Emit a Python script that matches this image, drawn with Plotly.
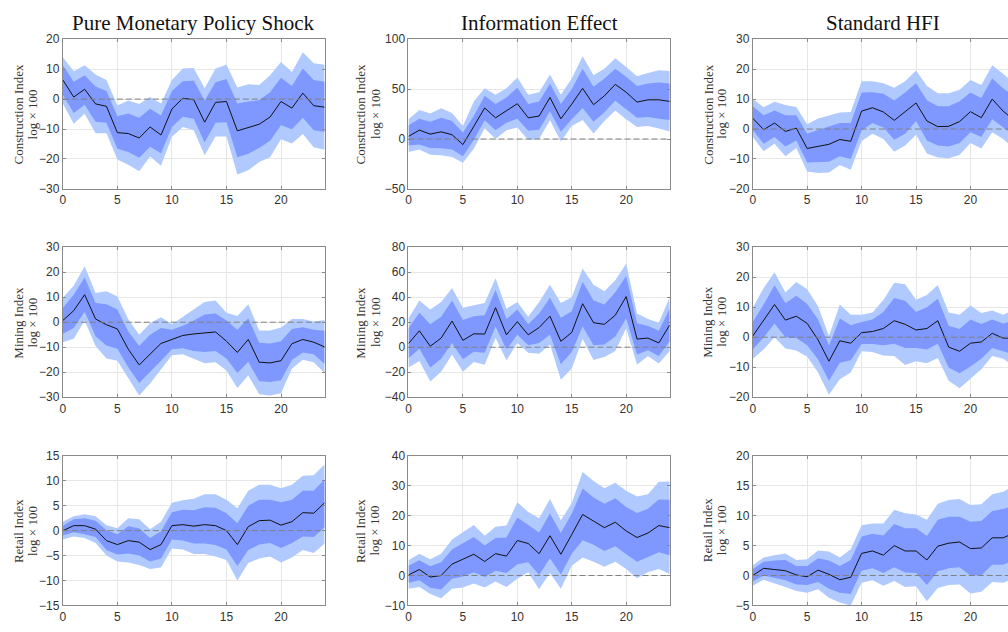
import plotly.graph_objects as go

horizon = list(range(25))
col_titles = ["Pure Monetary Policy Shock", "Information Effect", "Standard HFI"]
row_labels = ["Construction Index", "Mining Index", "Retail Index"]
unit_label = "log × 100"

# ---------------- Pure monetary policy shock ----------------
pmp_con_irf = [6.4, 0.7, 3.3, -1.6, -2.4, -11.2, -11.5, -13.0, -9.3, -12.0, -3.3, 0.3, -0.2, -7.7, -1.1, -0.8, -10.6, -9.5, -8.4, -6.0, -0.8, -3.0, 2.0, -2.2, -2.7]
pmp_con_hi68 = [11.3, 5.8, 8.0, 4.2, 2.7, -5.7, -4.8, -6.2, -3.2, -5.5, 2.7, 6.0, 6.1, -0.5, 5.6, 6.7, -1.5, -0.8, -0.4, 2.3, 7.1, 4.4, 10.2, 6.4, 5.8]
pmp_con_lo68 = [1.5, -4.6, -1.9, -7.6, -7.9, -16.6, -17.7, -19.6, -15.9, -18.1, -9.3, -5.9, -6.6, -14.5, -7.9, -7.7, -19.4, -18.3, -16.3, -13.9, -8.7, -10.1, -6.2, -10.4, -11.0]
pmp_con_hi90 = [14.0, 9.3, 11.3, 8.2, 6.4, -2.1, -0.5, -1.6, 0.7, -1.5, 6.4, 10.2, 10.4, 3.6, 10.2, 11.5, 3.9, 5.0, 4.7, 8.0, 12.4, 9.1, 15.7, 12.0, 11.5]
pmp_con_lo90 = [-1.5, -8.2, -4.9, -11.4, -11.4, -20.2, -21.9, -24.1, -19.2, -22.3, -12.6, -9.3, -10.4, -18.8, -12.5, -12.5, -25.2, -23.8, -21.0, -19.4, -13.4, -14.8, -11.7, -16.1, -16.9]

pmp_min_irf = [0.7, 4.6, 11.0, 1.3, -1.0, -2.7, -10.8, -17.1, -12.8, -8.5, -6.9, -5.3, -4.7, -4.3, -3.9, -7.6, -12.1, -6.9, -16.0, -16.3, -15.4, -8.6, -6.9, -8.0, -9.9]
pmp_min_hi68 = [5.7, 11.0, 17.9, 7.7, 7.2, 5.1, -3.7, -9.5, -5.0, -2.3, -3.0, -1.4, 0.7, 3.1, 3.5, 0.7, -3.0, 1.6, -8.2, -8.5, -7.6, -2.7, -2.0, -3.0, -3.4]
pmp_min_lo68 = [-4.6, -2.3, 4.2, -5.6, -9.3, -10.6, -18.0, -24.3, -20.0, -15.4, -10.8, -10.4, -11.5, -11.9, -11.5, -14.5, -20.3, -15.8, -23.6, -23.9, -23.2, -15.1, -12.1, -12.8, -16.7]
pmp_min_hi90 = [9.8, 14.6, 22.4, 11.7, 12.4, 10.3, 1.2, -5.0, -0.4, 2.0, -0.8, 2.2, 5.1, 8.1, 8.7, 3.8, 2.5, 7.2, -3.3, -3.3, -2.1, 1.3, 1.3, 0.3, 0.9]
pmp_min_lo90 = [-8.0, -6.6, 0.7, -9.5, -14.5, -15.4, -22.6, -29.3, -24.5, -19.0, -13.2, -12.8, -14.5, -16.4, -16.0, -19.3, -26.3, -21.3, -28.8, -29.3, -28.4, -18.6, -15.0, -16.0, -20.3]

pmp_ret_irf = [0.0, 1.0, 1.0, 0.3, -2.0, -2.8, -2.0, -2.3, -3.8, -2.8, 1.0, 1.2, 0.9, 1.2, 1.0, 0.0, -2.8, 0.8, 2.0, 2.1, 1.1, 1.8, 3.6, 3.5, 5.6]
pmp_ret_hi68 = [1.0, 2.3, 2.5, 2.0, 0.1, -0.7, 0.9, 0.5, -1.5, -0.1, 3.7, 4.2, 4.1, 4.7, 4.6, 3.5, 1.5, 5.0, 6.2, 6.2, 5.7, 6.2, 8.0, 8.0, 10.3]
pmp_ret_lo68 = [-1.0, -0.3, -0.7, -1.3, -3.9, -4.8, -4.6, -5.0, -6.2, -5.6, -1.8, -2.0, -2.6, -2.6, -2.9, -3.8, -7.1, -3.9, -2.8, -2.5, -3.5, -2.5, -1.2, -1.3, 0.7]
pmp_ret_hi90 = [1.8, 2.9, 3.3, 2.9, 1.1, 0.5, 2.5, 2.3, 0.3, 1.8, 5.6, 6.1, 6.4, 7.3, 7.3, 6.2, 4.5, 8.0, 9.2, 9.2, 8.5, 9.2, 11.0, 11.1, 13.3]
pmp_ret_lo90 = [-1.8, -1.2, -1.5, -2.5, -5.0, -6.2, -6.4, -6.9, -7.7, -7.4, -3.6, -3.8, -4.7, -4.7, -5.2, -5.9, -10.0, -6.5, -5.6, -5.2, -6.4, -5.4, -3.9, -4.5, -2.6]

# ---------------- Information effect ----------------
inf_con_irf = [2.6, 8.9, 4.9, 7.2, 4.3, -5.6, 12.7, 31.1, 21.3, 28.5, 35.4, 21.3, 23.0, 41.6, 20.3, 35.0, 50.8, 34.4, 43.3, 54.8, 46.9, 37.0, 39.3, 39.3, 37.7]
inf_con_hi68 = [13.8, 20.3, 17.4, 21.3, 18.0, 6.6, 23.0, 43.3, 35.1, 41.6, 51.5, 35.1, 37.7, 55.7, 35.1, 50.2, 70.5, 52.5, 60.7, 70.5, 62.3, 53.1, 55.7, 56.7, 55.7]
inf_con_lo68 = [-6.6, -5.6, -8.9, -9.2, -10.5, -17.4, -1.0, 18.7, 8.9, 16.4, 20.3, 8.2, 9.2, 27.9, 7.2, 19.7, 31.1, 17.4, 26.9, 38.4, 30.2, 21.3, 22.0, 20.3, 19.0]
inf_con_hi90 = [19.7, 29.2, 25.6, 30.8, 26.2, 13.1, 37.7, 50.8, 44.3, 50.8, 61.6, 44.3, 46.9, 64.6, 44.3, 60.7, 83.0, 63.9, 70.5, 81.0, 72.1, 62.9, 66.2, 68.9, 68.2]
inf_con_lo90 = [-13.1, -10.5, -15.7, -16.4, -18.0, -23.9, -9.8, 10.8, 0.0, 8.9, 11.5, -1.0, 0.0, 18.7, -2.6, 13.1, 19.0, 5.6, 18.0, 28.5, 19.7, 12.1, 13.1, 10.5, 7.5]

inf_min_irf = [2.9, 13.1, 0.8, 7.3, 20.9, 5.5, 10.7, 10.5, 31.6, 9.9, 20.4, 9.9, 15.7, 24.8, 4.7, 11.8, 34.8, 19.6, 18.3, 25.6, 40.5, 6.5, 7.3, 3.4, 17.8]
inf_min_hi68 = [15.2, 27.5, 18.3, 24.3, 37.4, 21.7, 24.8, 25.6, 45.8, 22.5, 30.1, 18.3, 26.9, 39.5, 23.5, 28.8, 52.3, 37.4, 34.2, 43.9, 57.0, 19.1, 17.0, 13.1, 30.8]
inf_min_lo68 = [-8.9, -1.3, -16.2, -9.2, 3.4, -9.7, -3.7, -4.4, 16.5, -1.8, 9.9, 1.6, 3.4, 9.9, -13.6, -3.9, 16.5, 1.6, 2.1, 8.6, 23.0, -5.8, -2.4, -7.1, 4.7]
inf_min_hi90 = [23.0, 37.4, 30.1, 36.1, 47.3, 31.6, 33.5, 35.3, 55.2, 30.8, 36.1, 24.3, 36.1, 49.9, 35.3, 40.0, 63.0, 49.9, 44.7, 53.6, 66.7, 26.9, 22.5, 19.6, 40.0]
inf_min_lo90 = [-16.2, -11.0, -27.5, -19.6, -5.8, -19.6, -11.8, -14.1, 7.3, -10.5, 3.4, -4.4, -5.2, 2.1, -26.1, -17.0, 6.5, -10.2, -7.8, -3.1, 15.2, -14.1, -7.1, -13.1, -3.1]

inf_ret_irf = [0.2, 2.0, -0.5, 0.0, 3.8, 5.4, 7.1, 4.7, 7.3, 6.5, 11.7, 10.7, 7.3, 13.3, 7.1, 13.7, 20.4, 18.2, 16.0, 17.8, 14.9, 12.7, 14.2, 16.7, 16.0]
inf_ret_hi68 = [3.3, 5.1, 3.1, 4.4, 8.7, 10.9, 12.9, 10.0, 12.5, 12.7, 19.4, 16.9, 14.4, 20.7, 14.2, 20.7, 29.1, 26.1, 24.0, 25.8, 22.9, 20.9, 22.3, 25.4, 25.3]
inf_ret_lo68 = [-2.4, -1.6, -4.1, -4.7, -1.1, -0.3, 1.1, -0.5, 1.6, 0.8, 3.8, 4.4, 0.2, 5.8, 0.3, 7.3, 11.8, 10.3, 8.2, 9.8, 7.1, 4.6, 6.2, 7.8, 6.8]
inf_ret_hi90 = [5.1, 7.3, 5.4, 7.3, 12.0, 14.5, 16.9, 13.3, 16.3, 16.7, 24.5, 21.2, 19.1, 25.6, 18.5, 24.2, 34.6, 31.6, 29.2, 31.0, 28.3, 26.4, 27.2, 31.3, 31.4]
inf_ret_lo90 = [-4.4, -3.8, -6.2, -7.6, -4.4, -4.0, -2.7, -4.0, -2.0, -3.8, -1.1, 1.1, -4.6, 0.8, -4.4, 3.3, 6.0, 4.6, 2.9, 4.6, 2.2, -0.9, 1.1, 2.2, 0.5]

# ---------------- Standard HFI ----------------
hfi_con_irf = [3.6, -0.2, 2.0, -0.8, 0.3, -6.5, -5.8, -5.1, -3.5, -4.1, 6.0, 7.1, 5.7, 2.9, 5.8, 8.7, 2.7, 0.8, 0.9, 2.5, 5.8, 3.8, 10.0, 6.0, 3.0]
hfi_con_hi68 = [7.6, 4.6, 6.2, 4.6, 4.6, -1.6, -0.3, 0.8, 2.0, 2.0, 12.2, 12.3, 11.8, 9.5, 12.2, 15.3, 9.6, 7.6, 7.6, 9.3, 12.2, 10.4, 16.9, 13.6, 10.9]
hfi_con_lo68 = [-0.3, -4.9, -2.7, -5.8, -3.8, -11.2, -11.1, -10.9, -9.1, -10.0, -0.5, 2.0, 0.5, -3.6, -1.6, 2.7, -3.8, -5.5, -5.8, -4.7, -1.1, -2.7, 3.3, 0.5, -2.2]
hfi_con_hi90 = [10.0, 7.3, 9.1, 8.0, 7.4, 1.6, 3.5, 4.6, 5.5, 5.7, 16.0, 16.0, 15.3, 13.8, 16.0, 19.6, 14.4, 12.0, 12.0, 13.1, 16.4, 14.7, 21.3, 18.5, 15.3]
hfi_con_lo90 = [-2.7, -7.4, -4.9, -9.1, -6.3, -14.2, -14.7, -14.5, -12.0, -13.6, -4.0, -1.6, -3.3, -7.6, -5.5, -1.9, -8.2, -9.5, -9.8, -8.7, -4.7, -6.5, -1.1, -3.3, -6.5]

hfi_min_irf = [0.4, 5.7, 10.9, 5.7, 7.0, 4.6, -0.9, -8.0, -1.2, -2.0, 1.5, 1.9, 2.9, 5.5, 4.3, 2.4, 2.9, 5.5, -3.3, -4.7, -2.0, -1.6, 1.3, -0.3, -0.3]
hfi_min_hi68 = [5.1, 10.9, 17.3, 11.3, 13.8, 11.1, 5.9, -2.8, 6.2, 4.0, 5.1, 5.9, 8.4, 13.1, 12.2, 8.4, 10.0, 12.8, 3.8, 2.7, 5.9, 4.4, 5.9, 4.6, 5.5]
hfi_min_lo68 = [-4.1, -0.1, 4.6, 0.0, -0.3, -2.7, -7.4, -14.5, -8.5, -7.7, -2.3, -2.3, -2.7, -2.2, -3.6, -3.6, -4.1, -2.2, -10.1, -12.0, -9.8, -7.2, -3.6, -4.7, -5.8]
hfi_min_hi90 = [9.8, 16.4, 21.7, 14.9, 18.4, 16.0, 10.3, 0.4, 10.9, 7.5, 7.5, 8.2, 12.4, 18.2, 17.7, 12.5, 14.1, 17.4, 8.2, 7.5, 10.6, 8.1, 8.9, 7.5, 9.2]
hfi_min_lo90 = [-7.2, -4.1, 0.0, -3.8, -4.4, -6.5, -11.8, -19.2, -14.0, -11.8, -4.7, -4.9, -6.1, -6.3, -9.3, -8.0, -8.7, -6.9, -14.5, -17.0, -14.0, -10.7, -6.3, -7.2, -9.6]

hfi_ret_irf = [0.0, 1.2, 1.0, 0.8, 0.1, -0.2, 0.9, 0.2, -0.7, -0.3, 3.7, 4.1, 3.4, 5.0, 4.1, 4.1, 2.6, 4.9, 5.4, 5.6, 4.5, 4.6, 6.3, 6.3, 7.1]
hfi_ret_hi68 = [1.1, 2.3, 2.5, 2.6, 1.6, 1.6, 2.9, 2.5, 1.6, 2.6, 6.5, 7.0, 6.7, 8.6, 7.9, 7.9, 6.6, 9.3, 9.8, 9.8, 9.0, 9.1, 10.8, 11.1, 11.7]
hfi_ret_lo68 = [-1.0, 0.0, -0.4, -0.8, -1.5, -1.6, -1.1, -2.2, -2.9, -3.1, 0.8, 1.2, 0.4, 1.4, 0.5, 0.4, -1.6, 0.7, 1.2, 1.4, 0.0, 0.0, 1.8, 1.8, 2.5]
hfi_ret_hi90 = [1.7, 3.0, 3.4, 3.7, 2.6, 2.7, 4.2, 4.0, 3.0, 4.4, 8.4, 8.7, 8.7, 11.0, 10.4, 10.2, 9.3, 12.0, 12.6, 12.8, 11.8, 11.9, 13.6, 14.0, 15.0]
hfi_ret_lo90 = [-1.7, -0.7, -1.3, -1.9, -2.6, -2.9, -2.3, -3.7, -4.5, -5.0, -1.2, -0.8, -1.7, -0.9, -1.9, -1.8, -4.3, -2.1, -1.6, -1.5, -3.0, -2.7, -1.1, -1.2, -0.5]

# y-axis ranges and tick steps for each panel (row, col)
y_ranges = [[[-30, 20], [-50, 100], [-20, 30]],
            [[-30, 30], [-40, 80], [-20, 30]],
            [[-15, 15], [-10, 40], [-5, 20]]]
y_steps = [[10, 50, 10], [10, 20, 10], [5, 10, 5]]

panels = [
    [(pmp_con_irf, pmp_con_hi68, pmp_con_lo68, pmp_con_hi90, pmp_con_lo90),
     (inf_con_irf, inf_con_hi68, inf_con_lo68, inf_con_hi90, inf_con_lo90),
     (hfi_con_irf, hfi_con_hi68, hfi_con_lo68, hfi_con_hi90, hfi_con_lo90)],
    [(pmp_min_irf, pmp_min_hi68, pmp_min_lo68, pmp_min_hi90, pmp_min_lo90),
     (inf_min_irf, inf_min_hi68, inf_min_lo68, inf_min_hi90, inf_min_lo90),
     (hfi_min_irf, hfi_min_hi68, hfi_min_lo68, hfi_min_hi90, hfi_min_lo90)],
    [(pmp_ret_irf, pmp_ret_hi68, pmp_ret_lo68, pmp_ret_hi90, pmp_ret_lo90),
     (inf_ret_irf, inf_ret_hi68, inf_ret_lo68, inf_ret_hi90, inf_ret_lo90),
     (hfi_ret_irf, hfi_ret_hi68, hfi_ret_lo68, hfi_ret_hi90, hfi_ret_lo90)],
]

# ---------------- layout geometry ----------------
W, H = 1008, 632
col_px = [(60, 322.6), (406.7, 668.7), (752, 1008)]
x_max = [24, 24, 23.45]
row_px = [(33, 186), (245.7, 399), (459, 612)]
ylab_px = [(15.5, 29.5), (358.5, 373), (706.7, 720.7)]
title_cx = [191.3, 537.7, 882.8]

LIGHT = "rgb(176,202,255)"
DARK = "rgb(126,152,255)"
AXIS = "#8a8a8a"
TICKFONT = dict(family="Liberation Sans, Arial, sans-serif", size=12, color="#333333")
SERIF = "Liberation Serif, Times New Roman, serif"

fig = go.Figure()
shapes = []
annotations = []
layout = {}

for r in range(3):
    for c in range(3):
        n = r * 3 + c + 1
        xa = "x" if n == 1 else f"x{n}"
        ya = "y" if n == 1 else f"y{n}"
        irf, hi68, lo68, hi90, lo90 = panels[r][c]
        xs = horizon
        fig.add_trace(go.Scatter(x=xs + xs[::-1], y=hi90 + lo90[::-1], fill="toself",
                                 fillcolor=LIGHT, line=dict(width=0), mode="lines",
                                 hoverinfo="skip", showlegend=False, xaxis=xa, yaxis=ya))
        fig.add_trace(go.Scatter(x=xs + xs[::-1], y=hi68 + lo68[::-1], fill="toself",
                                 fillcolor=DARK, line=dict(width=0), mode="lines",
                                 hoverinfo="skip", showlegend=False, xaxis=xa, yaxis=ya))
        fig.add_trace(go.Scatter(x=xs, y=irf, mode="lines",
                                 line=dict(color="#111111", width=1),
                                 showlegend=False, xaxis=xa, yaxis=ya))
        x0, x1 = col_px[c]
        y0, y1 = row_px[r]
        layout["xaxis" if n == 1 else f"xaxis{n}"] = dict(
            domain=[x0 / W, x1 / W], anchor=ya, range=[0, x_max[c]],
            tick0=0, dtick=5, showgrid=True, gridcolor="#e6e6e6", gridwidth=1,
            zeroline=False, showline=True, linecolor=AXIS, linewidth=1, mirror="allticks",
            ticks="inside", ticklen=3, tickcolor=AXIS, tickfont=TICKFONT)
        layout["yaxis" if n == 1 else f"yaxis{n}"] = dict(
            domain=[1 - y1 / H, 1 - y0 / H], anchor=xa, range=y_ranges[r][c],
            tick0=y_ranges[r][c][0], dtick=y_steps[r][c], showgrid=True,
            gridcolor="#e6e6e6", gridwidth=1, zeroline=False, showline=True,
            linecolor=AXIS, linewidth=1, mirror=("allticks" if c < 2 else False),
            ticks="inside", ticklen=3, tickcolor=AXIS, tickfont=TICKFONT)
        shapes.append(dict(type="line", xref=f"{xa} domain", x0=0, x1=1,
                           yref=ya, y0=0, y1=0, layer="above",
                           line=dict(color="#808080", width=1, dash="6px,3px")))
        ymid = 1 - (y0 + y1) / 2 / H
        annotations.append(dict(text=row_labels[r], x=ylab_px[c][0] / W, y=ymid,
                                xref="paper", yref="paper", textangle=-90, showarrow=False,
                                xanchor="center", yanchor="middle",
                                font=dict(family=SERIF, size=13, color="#333333")))
        annotations.append(dict(text=unit_label, x=ylab_px[c][1] / W, y=ymid,
                                xref="paper", yref="paper", textangle=-90, showarrow=False,
                                xanchor="center", yanchor="middle",
                                font=dict(family=SERIF, size=13, color="#333333")))

for c in range(3):
    annotations.append(dict(text=col_titles[c], x=title_cx[c] / W, y=1 - 16 / H,
                            xref="paper", yref="paper", showarrow=False,
                            xanchor="center", yanchor="middle",
                            font=dict(family=SERIF, size=21, color="#111111")))

fig.update_layout(width=W, height=H, margin=dict(l=0, r=0, t=0, b=0),
                  paper_bgcolor="white", plot_bgcolor="white",
                  shapes=shapes, annotations=annotations, **layout)

fig.write_html("out.html", config={"displayModeBar": False},
               post_script="document.body.style.margin='0';document.body.style.overflow='hidden';")
